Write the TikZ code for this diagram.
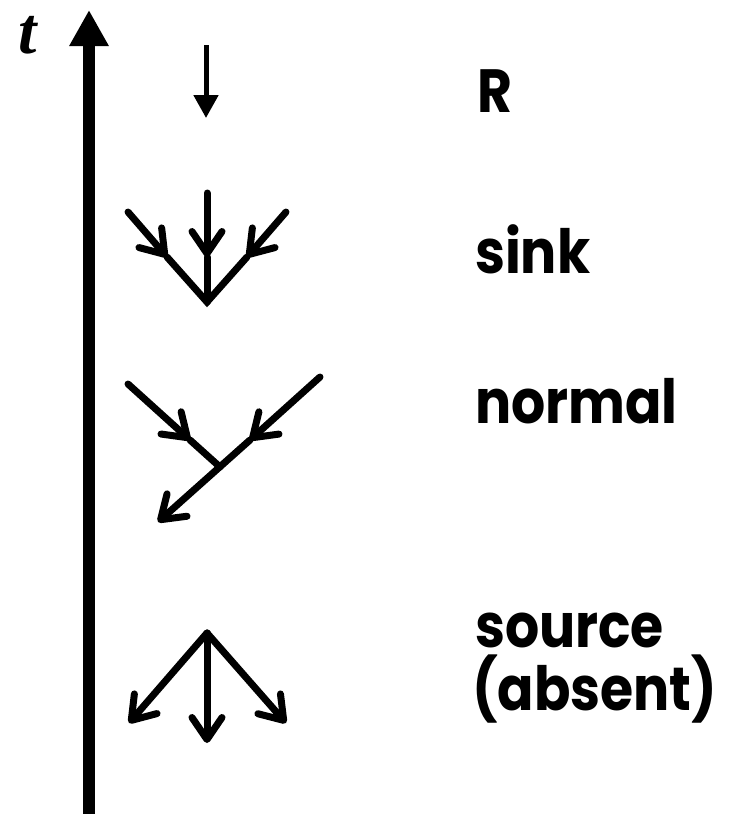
\documentclass[tikz,border=0pt]{standalone}
\usepackage{fontspec}
\usepackage{amsmath, amssymb}
\usepackage{tikz}
\usetikzlibrary{arrows.meta, positioning}
\newfontfamily\labelfont{Poppins}[FakeStretch=0.88]
\newfontfamily\tfont{Liberation Serif}

\tikzset{
    barb/.style={line width=7pt, line cap=round, -{Straight Barb[length=22pt, width=30pt, round]}},
    stem/.style={line width=7pt, line cap=round},
    lbl/.style={anchor=base west, inner sep=0pt, font=\labelfont\bfseries\fontsize{61}{61}\selectfont}
}

\begin{document}
\begin{tikzpicture}[x=1pt, y=-1pt]
    \useasboundingbox (0,0) rectangle (734,814);

    % 1. Trục thời gian t
    \coordinate (t0) at (89,814);
    \coordinate (t1) at (89,10);
    \draw[line width=12pt, -{Triangle[length=36pt, width=37pt]}] (t0) -- (t1);
    \node[inner sep=0pt, anchor=base] (tlab) at (28,53) {\tfont\fontsize{66}{66}\selectfont\bfseries\itshape t};

    % 2. R
    \coordinate (r0) at (206,45);
    \coordinate (r1) at (206,118);
    \draw[line width=5pt, -{Triangle[length=23pt, width=24pt]}] (r0) -- (r1);

    % 3. sink
    \coordinate (sk) at (207,302);
    \coordinate (ska) at (128,212);
    \coordinate (skb) at (207,193);
    \coordinate (skc) at (286,212);
    \coordinate (skam) at (167,257);
    \coordinate (skbm) at (207,257);
    \coordinate (skcm) at (247,257);
    \draw[barb] (ska) -- (skam);
    \draw[barb] (skb) -- (skbm);
    \draw[barb] (skc) -- (skcm);
    \draw[stem] (skam) -- (sk) -- (skcm);
    \draw[stem] (skbm) -- (sk);

    % 4. normal
    \coordinate (na) at (128,384);
    \coordinate (nam) at (190,440);
    \coordinate (nj) at (220,467);
    \coordinate (nb) at (320,377);
    \coordinate (nbm) at (250,440);
    \coordinate (nc) at (158,522);
    \draw[barb] (na) -- (nam);
    \draw[stem] (nam) -- (nj);
    \draw[barb] (nb) -- (nbm);
    \draw[barb] (nbm) -- (nc);

    % 5. source
    \coordinate (so) at (207,633);
    \coordinate (sol) at (129,723);
    \coordinate (som) at (207,743);
    \coordinate (sor) at (286,723);
    \draw[barb] (so) -- (sol);
    \draw[barb] (so) -- (som);
    \draw[barb] (so) -- (sor);

    % Nhãn
    \node[lbl] (lR) at (477,112) {R};
    \node[lbl] (lsink) at (475,273) {sink};
    \node[lbl] (lnormal) at (475,423) {normal};
    \node[lbl] (lsource) at (475,647) {source};
    \node[lbl] (labsent) at (472,710) {(absent)};
\end{tikzpicture}
\end{document}
